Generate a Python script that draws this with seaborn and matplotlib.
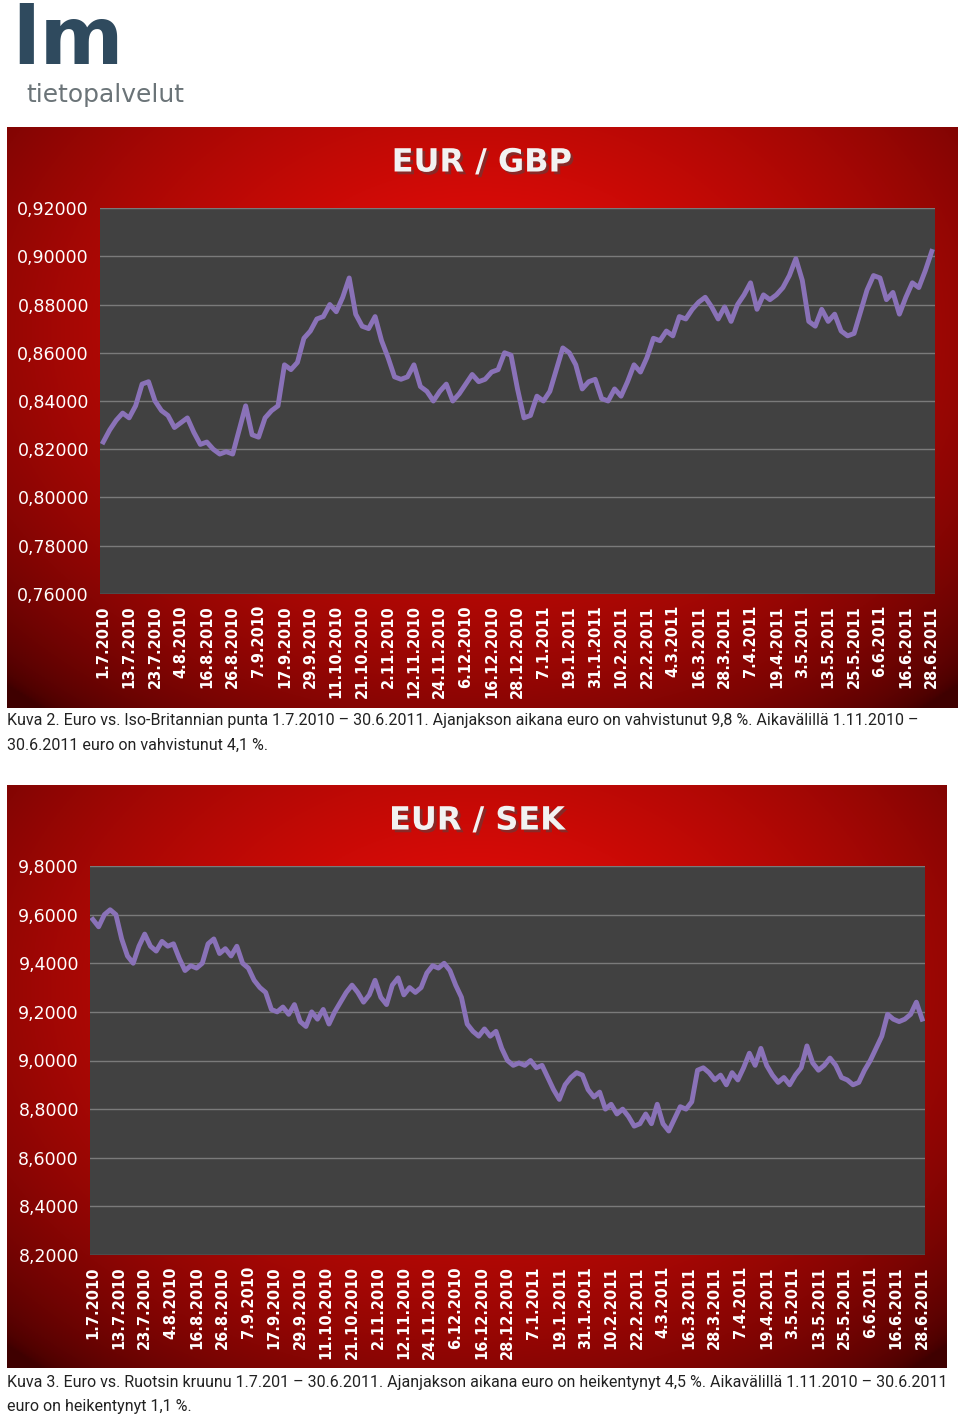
import numpy as np
import matplotlib
matplotlib.use("Agg")
import matplotlib.pyplot as plt
import matplotlib.patheffects as pe
import seaborn as sns

tick_labels = ["1.7.2010", "13.7.2010", "23.7.2010", "4.8.2010", "16.8.2010", "26.8.2010",
               "7.9.2010", "17.9.2010", "29.9.2010", "11.10.2010", "21.10.2010", "2.11.2010",
               "12.11.2010", "24.11.2010", "6.12.2010", "16.12.2010", "28.12.2010", "7.1.2011",
               "19.1.2011", "31.1.2011", "10.2.2011", "22.2.2011", "4.3.2011", "16.3.2011",
               "28.3.2011", "7.4.2011", "19.4.2011", "3.5.2011", "13.5.2011", "25.5.2011",
               "6.6.2011", "16.6.2011", "28.6.2011"]

gbp = [0.823, 0.828, 0.832, 0.835, 0.833, 0.838, 0.847, 0.848, 0.840, 0.836, 0.834, 0.829,
       0.831, 0.833, 0.827, 0.822, 0.823, 0.820, 0.818, 0.819, 0.818, 0.828, 0.838, 0.826,
       0.825, 0.833, 0.836, 0.838, 0.855, 0.853, 0.856, 0.866, 0.869, 0.874, 0.875, 0.880,
       0.877, 0.883, 0.891, 0.876, 0.871, 0.870, 0.875, 0.865, 0.858, 0.850, 0.849, 0.850,
       0.855, 0.846, 0.844, 0.840, 0.844, 0.847, 0.840, 0.843, 0.847, 0.851, 0.848, 0.849,
       0.852, 0.853, 0.860, 0.859, 0.845, 0.833, 0.834, 0.842, 0.840, 0.844, 0.853, 0.862,
       0.860, 0.855, 0.845, 0.848, 0.849, 0.841, 0.840, 0.845, 0.842, 0.848, 0.855, 0.852,
       0.858, 0.866, 0.865, 0.869, 0.867, 0.875, 0.874, 0.878, 0.881, 0.883, 0.879, 0.874,
       0.879, 0.873, 0.880, 0.884, 0.889, 0.878, 0.884, 0.882, 0.884, 0.887, 0.892, 0.899,
       0.890, 0.873, 0.871, 0.878, 0.873, 0.876, 0.869, 0.867, 0.868, 0.877, 0.886, 0.892,
       0.891, 0.882, 0.885, 0.876, 0.883, 0.889, 0.887, 0.894, 0.902]

sek = [9.58, 9.55, 9.60, 9.62, 9.60, 9.50, 9.43, 9.40, 9.47, 9.52, 9.47, 9.45, 9.49, 9.47,
       9.48, 9.42, 9.37, 9.39, 9.38, 9.40, 9.48, 9.50, 9.44, 9.46, 9.43, 9.47, 9.40, 9.38,
       9.33, 9.30, 9.28, 9.21, 9.20, 9.22, 9.19, 9.23, 9.16, 9.14, 9.20, 9.17, 9.21, 9.15,
       9.20, 9.24, 9.28, 9.31, 9.28, 9.24, 9.27, 9.33, 9.26, 9.23, 9.31, 9.34, 9.27, 9.30,
       9.28, 9.30, 9.36, 9.39, 9.38, 9.40, 9.37, 9.31, 9.26, 9.15, 9.12, 9.10, 9.13, 9.10,
       9.12, 9.05, 9.00, 8.98, 8.99, 8.98, 9.00, 8.97, 8.98, 8.93, 8.88, 8.84, 8.90, 8.93,
       8.95, 8.94, 8.88, 8.85, 8.87, 8.80, 8.82, 8.78, 8.80, 8.77, 8.73, 8.74, 8.78, 8.74,
       8.82, 8.74, 8.71, 8.76, 8.81, 8.80, 8.83, 8.96, 8.97, 8.95, 8.92, 8.94, 8.90, 8.95,
       8.92, 8.97, 9.03, 8.98, 9.05, 8.98, 8.94, 8.91, 8.93, 8.90, 8.94, 8.97, 9.06, 8.99,
       8.96, 8.98, 9.01, 8.98, 8.93, 8.92, 8.90, 8.91, 8.96, 9.00, 9.05, 9.10, 9.19, 9.17,
       9.16, 9.17, 9.19, 9.24, 9.17]

gbp_ticks = [0.76, 0.78, 0.80, 0.82, 0.84, 0.86, 0.88, 0.90, 0.92]
sek_ticks = [8.2, 8.4, 8.6, 8.8, 9.0, 9.2, 9.4, 9.6, 9.8]

W, H = 960, 1417
fig = plt.figure(figsize=(9.6, 14.17), dpi=100)
fig.patch.set_facecolor("white")


def box(x0, y0, x1, y1):
    return [x0 / W, 1 - y1 / H, (x1 - x0) / W, (y1 - y0) / H]


def red_panel(rect):
    ax = fig.add_axes(rect)
    yy, xx = np.mgrid[0:1:300j, 0:1:300j]
    r = np.sqrt(((xx - 0.5) / 0.72) ** 2 + ((yy - 0.35) / 0.85) ** 2)
    r = np.clip(r, 0, 1)
    c0 = np.array([0.95, 0.05, 0.03])
    c1 = np.array([0.25, 0.0, 0.0])
    img = c0 * (1 - r[..., None]) ** 0.6 + c1 * (1 - (1 - r[..., None]) ** 0.6)
    ax.imshow(img, extent=[0, 1, 0, 1], aspect="auto", origin="upper")
    ax.set_axis_off()
    return ax


def chart(panel, plot, title, values, yticks, fmt):
    red_panel(box(*panel))
    ax = fig.add_axes(box(*plot))
    ax.set_facecolor("#414141")
    x = np.arange(len(values))
    sns.lineplot(x=x, y=values, ax=ax, color="#8a72b8", linewidth=3.5)
    ax.set_xlim(-0.5, len(values) - 0.5)
    ax.set_ylim(yticks[0], yticks[-1])
    ax.set_yticks(yticks)
    ax.set_yticklabels([fmt(v) for v in yticks], color="white", fontsize=12.5)
    ax.set_xticks(np.linspace(0, len(values) - 1, len(tick_labels)))
    ax.set_xticklabels(tick_labels, rotation=90, color="white", fontsize=10.5,
                       fontweight="bold")
    ax.grid(axis="y", color="#7a7a7a", linewidth=1)
    ax.tick_params(length=0, pad=8)
    for s in ax.spines.values():
        s.set_visible(False)
    fig.text((panel[0] + panel[2]) / 2 / W, 1 - (plot[1] - 45) / H, title,
             ha="center", va="center", fontsize=23, fontweight="bold", color="#f2f2f2",
             path_effects=[pe.withSimplePatchShadow(offset=(2, -2), alpha=0.5)])


chart((7, 127, 957, 708), (100, 208, 935, 594), "EUR / GBP", gbp, gbp_ticks,
      lambda v: f"{v:.5f}".replace(".", ","))
chart((7, 785, 947, 1368), (90, 866, 925, 1255), "EUR / SEK", sek, sek_ticks,
      lambda v: f"{v:.4f}".replace(".", ","))

cap = dict(fontsize=11.5, color="#222222", family="Roboto")
fig.text(7 / W, 1 - 721 / H,
         "Kuva 2. Euro vs. Iso-Britannian punta 1.7.2010 \u2013 30.6.2011. Ajanjakson aikana euro on vahvistunut 9,8 %. Aikavälillä 1.11.2010 \u2013",
         va="center", **cap)
fig.text(7 / W, 1 - 745 / H, "30.6.2011 euro on vahvistunut 4,1 %.", va="center", **cap)
fig.text(7 / W, 1 - 1382 / H,
         "Kuva 3. Euro vs. Ruotsin kruunu 1.7.201 \u2013 30.6.2011. Ajanjakson aikana euro on heikentynyt 4,5 %. Aikavälillä 1.11.2010 \u2013 30.6.2011",
         va="center", **cap)
fig.text(7 / W, 1 - 1406 / H, "euro on heikentynyt 1,1 %.", va="center", **cap)

# logo
fig.text(12 / W, 1 - 42 / H, "lm", fontsize=58, fontweight="bold", color="#2f4a5e",
         va="center", ha="left")
fig.text(26 / W, 1 - 95 / H, "tietopalvelut", fontsize=18, color="#6b7478",
         va="center", ha="left")

fig.savefig("out.png", dpi=100)
